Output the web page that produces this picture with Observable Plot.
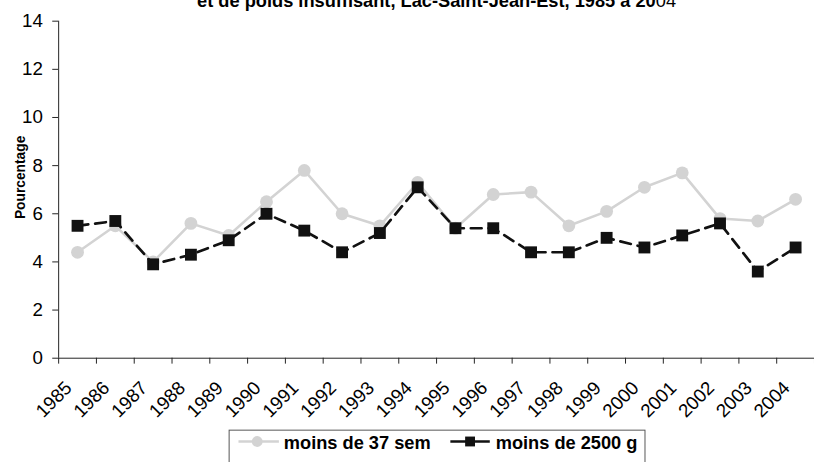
<!DOCTYPE html>
<html>
<head>
<meta charset="utf-8">
<script src="https://cdn.jsdelivr.net/npm/d3@7"></script>
<script src="https://cdn.jsdelivr.net/npm/@observablehq/plot@0.6"></script>
<style>
  html, body { margin: 0; padding: 0; background: #fff; overflow: hidden; }
  #chart { width: 814px; height: 462px; overflow: hidden; position: relative; }
  svg { font-family: "Liberation Sans", Arial, sans-serif; }
</style>
</head>
<body>
<div id="chart"></div>
<script>
const years = ["1985","1986","1987","1988","1989","1990","1991","1992","1993","1994",
               "1995","1996","1997","1998","1999","2000","2001","2002","2003","2004"];
const moins37sem = [4.4, 5.5, 4.0, 5.6, 5.1, 6.5, 7.8, 6.0, 5.5, 7.3,
                    5.4, 6.8, 6.9, 5.5, 6.1, 7.1, 7.7, 5.8, 5.7, 6.6];
const moins2500g = [5.5, 5.7, 3.9, 4.3, 4.9, 6.0, 5.3, 4.4, 5.2, 7.1,
                    5.4, 5.4, 4.4, 4.4, 5.0, 4.6, 5.1, 5.6, 3.6, 4.6];
const yTicks = [0, 2, 4, 6, 8, 10, 12, 14];
const seriesNames = ["moins de 37 sem", "moins de 2500 g"];
const titleBold = "et de poids insuffisant, Lac-Saint-Jean-Est, 1985 à 20";
const titleRegular = "04";
const yLabel = "Pourcentage";

const grayC = "#d3d3d3";
const blackC = "#111111";

const rows37 = years.map((y, i) => ({pos: i + 0.5, year: y, v: moins37sem[i]}));
const rows2500 = years.map((y, i) => ({pos: i + 0.5, year: y, v: moins2500g[i]}));
const labelRows = years.map((y, i) => ({pos: i + 0.5, year: y}));

const plot = Plot.plot({
  width: 826,
  height: 462,
  marginLeft: 59,
  marginRight: 0,
  marginTop: 21,
  marginBottom: 99,
  style: {fontFamily: '"Liberation Sans", Arial, sans-serif', background: "#fff", overflow: "visible"},
  x: {domain: [0, years.length]},
  y: {domain: [0, 14]},
  marks: [
    Plot.axisY({ticks: yTicks, tickSize: 6, tickPadding: 10, fontSize: 19, label: null, stroke: "#222", color: "#000"}),
    Plot.axisX({ticks: d3.range(years.length + 1), tickSize: 6, tickFormat: () => "", label: null, stroke: "#222"}),
    Plot.ruleX([0], {stroke: "#222", strokeWidth: 1}),
    Plot.ruleY([0], {stroke: "#222", strokeWidth: 1}),
    Plot.text(labelRows, {x: "pos", y: () => 0, text: "year", rotate: -45, textAnchor: "end",
      dx: -9, dy: 27, fontSize: 19, fill: "#000"}),
    Plot.line(rows37, {x: "pos", y: "v", stroke: grayC, strokeWidth: 2.6}),
    Plot.dot(rows37, {x: "pos", y: "v", r: 6.5, fill: grayC, stroke: "none"}),
    Plot.line(rows2500, {x: "pos", y: "v", stroke: blackC, strokeWidth: 2.7, strokeDasharray: "11,7"}),
    Plot.dot(rows2500, {x: "pos", y: "v", symbol: "square", r: 6.8, fill: blackC, stroke: "none"})
  ]
});

document.getElementById("chart").appendChild(plot);
const svg = d3.select(plot);

// title (top cut off like the reference)
const t = svg.append("text")
  .attr("x", 443).attr("y", 7)
  .attr("text-anchor", "middle")
  .attr("font-size", 18.5)
  .attr("fill", "#000");
t.append("tspan").attr("font-weight", "bold").text(titleBold);
t.append("tspan").attr("font-weight", "normal").text(titleRegular);

// y label
svg.append("text")
  .attr("transform", "translate(25,180) rotate(-90)")
  .attr("text-anchor", "middle")
  .attr("font-size", 14)
  .attr("font-weight", "bold")
  .attr("fill", "#000")
  .text(yLabel);

// legend
const lg = svg.append("g").attr("text-anchor", "start");
lg.append("rect").attr("x", 232.5).attr("y", 436.5).attr("width", 422).attr("height", 40)
  .attr("fill", "#fff").attr("stroke", "#555").attr("stroke-width", 1);
lg.append("line").attr("x1", 242).attr("x2", 283).attr("y1", 448).attr("y2", 448)
  .attr("stroke", grayC).attr("stroke-width", 2.6);
lg.append("circle").attr("cx", 261).attr("cy", 448).attr("r", 5.5).attr("fill", grayC);
lg.append("text").attr("x", 288).attr("y", 455.5).attr("text-anchor", "start")
  .attr("font-size", 18.5).attr("font-weight", "bold")
  .attr("fill", "#000").text(seriesNames[0]);
lg.append("line").attr("x1", 457).attr("x2", 497).attr("y1", 448).attr("y2", 448)
  .attr("stroke", blackC).attr("stroke-width", 2.7);
lg.append("rect").attr("x", 472).attr("y", 443).attr("width", 10).attr("height", 10).attr("fill", blackC);
lg.append("text").attr("x", 503).attr("y", 455.5).attr("text-anchor", "start")
  .attr("font-size", 18.5).attr("font-weight", "bold")
  .attr("fill", "#000").text(seriesNames[1]);
</script>
</body>
</html>
